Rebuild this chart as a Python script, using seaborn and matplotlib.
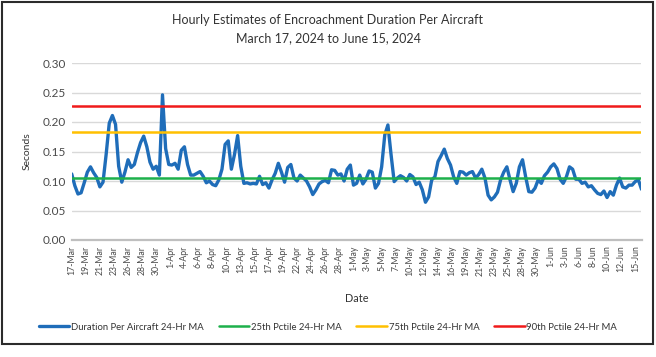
import numpy as np
import pandas as pd
import matplotlib
matplotlib.use("Agg")
import matplotlib.pyplot as plt
import seaborn as sns
from matplotlib.patches import Rectangle

# ---------------- data ----------------
start_date = "2024-03-17"
step_hours = 12  # one reading every 12 hours

duration_ma = [
    0.112, 0.092, 0.078, 0.080, 0.097, 0.115, 0.124, 0.114, 0.106, 0.090,
    0.098, 0.145, 0.198, 0.211, 0.196, 0.125, 0.098, 0.115, 0.136, 0.123,
    0.128, 0.148, 0.165, 0.176, 0.158, 0.132, 0.120, 0.125, 0.110, 0.246,
    0.155, 0.128, 0.127, 0.130, 0.120, 0.152, 0.158, 0.128, 0.110, 0.110,
    0.113, 0.116, 0.108, 0.097, 0.100, 0.094, 0.092, 0.102, 0.120, 0.162,
    0.168, 0.120, 0.145, 0.177, 0.125, 0.096, 0.097, 0.095, 0.096, 0.095,
    0.108, 0.094, 0.097, 0.088, 0.102, 0.113, 0.130, 0.115, 0.098, 0.123,
    0.128, 0.105, 0.100, 0.110, 0.105, 0.100, 0.090, 0.077, 0.085, 0.095,
    0.099, 0.101, 0.097, 0.119, 0.118, 0.110, 0.112, 0.100, 0.120, 0.127,
    0.093, 0.096, 0.110, 0.095, 0.103, 0.117, 0.115, 0.088, 0.096, 0.124,
    0.178, 0.195, 0.145, 0.099, 0.105, 0.109, 0.106, 0.100, 0.111, 0.107,
    0.094, 0.098, 0.085, 0.064, 0.073, 0.102, 0.107, 0.133, 0.143, 0.154,
    0.138, 0.127, 0.107, 0.096, 0.116, 0.115, 0.110, 0.114, 0.116, 0.105,
    0.111, 0.120, 0.105, 0.076, 0.068, 0.073, 0.081, 0.102, 0.115, 0.124,
    0.102, 0.082, 0.096, 0.124, 0.136, 0.107, 0.082, 0.081, 0.088, 0.102,
    0.096, 0.109, 0.115, 0.124, 0.129, 0.121, 0.103, 0.096, 0.107, 0.124,
    0.120, 0.103, 0.103, 0.096, 0.098, 0.090, 0.092, 0.085, 0.079, 0.077,
    0.083, 0.072, 0.082, 0.076, 0.093, 0.105, 0.090, 0.088, 0.093, 0.093,
    0.099, 0.102, 0.086,
]

pctile_25 = 0.1045
pctile_75 = 0.1825
pctile_90 = 0.2277

series_names = [
    "Duration Per Aircraft 24-Hr MA",
    "25th Pctile 24-Hr MA",
    "75th Pctile 24-Hr MA",
    "90th Pctile 24-Hr MA",
]
series_colors = ["#1F6DB9", "#1DB04B", "#FFC000", "#F01A1A"]

tick_labels = [
    "17-Mar", "19-Mar", "21-Mar", "23-Mar", "26-Mar", "28-Mar", "30-Mar",
    "1-Apr", "4-Apr", "6-Apr", "8-Apr", "10-Apr", "13-Apr", "15-Apr",
    "17-Apr", "19-Apr", "22-Apr", "24-Apr", "26-Apr", "28-Apr", "1-May",
    "3-May", "5-May", "7-May", "10-May", "12-May", "14-May", "16-May",
    "19-May", "21-May", "23-May", "25-May", "28-May", "30-May", "1-Jun",
    "3-Jun", "6-Jun", "8-Jun", "10-Jun", "12-Jun", "15-Jun",
]
tick_every_hours = 54
y_ticks = [0.00, 0.05, 0.10, 0.15, 0.20, 0.25, 0.30]

title_text = "Hourly Estimates of Encroachment Duration Per Aircraft\nMarch 17, 2024 to June 15, 2024"

# ---------------- style ----------------
sns.set_theme(style="white")
plt.rcParams["font.family"] = ["Lato", "DejaVu Sans"]
txt = "#333333"
tick_col = "#4a4a4a"

times = pd.date_range(start_date, periods=len(duration_ma), freq=f"{step_hours}h")
df = pd.DataFrame({"Date": times, "Seconds": duration_ma})

fig = plt.figure(figsize=(6.56, 3.57), dpi=100)
fig.patch.set_facecolor("white")
W, H = 656, 357
left, right, top, bottom = 71.7, 641.5, 63, 240
ax = fig.add_axes([left / W, 1 - bottom / H, (right - left) / W, (bottom - top) / H])

sns.lineplot(data=df, x="Date", y="Seconds", ax=ax, color=series_colors[0],
             lw=2.4, label=series_names[0], zorder=3)
for val, col, name in zip([pctile_25, pctile_75, pctile_90], series_colors[1:], series_names[1:]):
    sns.lineplot(x=[times[0], times[-1]], y=[val, val], ax=ax, color=col,
                 lw=1.8, label=name, zorder=4)

ax.set_xlim(times[0], times[-1])
ax.set_ylim(0, 0.30)
ax.set_yticks(y_ticks)
ax.set_yticklabels([f"{v:.2f}" for v in y_ticks], fontsize=8.5, color=tick_col)
tick_pos = pd.date_range(start_date, periods=len(tick_labels), freq=f"{tick_every_hours}h")
ax.set_xticks(tick_pos)
ax.set_xticklabels(tick_labels, rotation=90, fontsize=6.3, color=tick_col)
ax.tick_params(axis="both", length=0, pad=4)
ax.yaxis.grid(True, color="#D9D9D9", lw=1.0)
ax.set_axisbelow(True)
for s in ["top", "right", "left"]:
    ax.spines[s].set_visible(False)
ax.spines["bottom"].set_color("#BFBFBF")
ax.spines["bottom"].set_linewidth(1.6)

ax.set_xlabel("Date", fontsize=7.8, color=txt, labelpad=12)
ax.set_ylabel("Seconds", fontsize=7.5, color=txt, labelpad=8)

fig.text(0.5, 1 - 29 / H, title_text, ha="center", va="center", fontsize=9,
         color=txt, linespacing=1.6)

ax.get_legend().remove()
handles, labels = ax.get_legend_handles_labels()
fig.legend(handles, labels, loc="center", bbox_to_anchor=(0.5, 1 - 327 / H),
           ncol=4, frameon=False, fontsize=6.8, handlelength=3.2,
           handletextpad=0.2, columnspacing=1.6, labelcolor=txt)

fig.patches.append(Rectangle((1.5 / W, 1 - 344 / H), 651 / W, 342 / H,
                             transform=fig.transFigure, fill=False,
                             edgecolor="#2b2b2b", lw=1.5))

fig.savefig("out.png", dpi=100)
